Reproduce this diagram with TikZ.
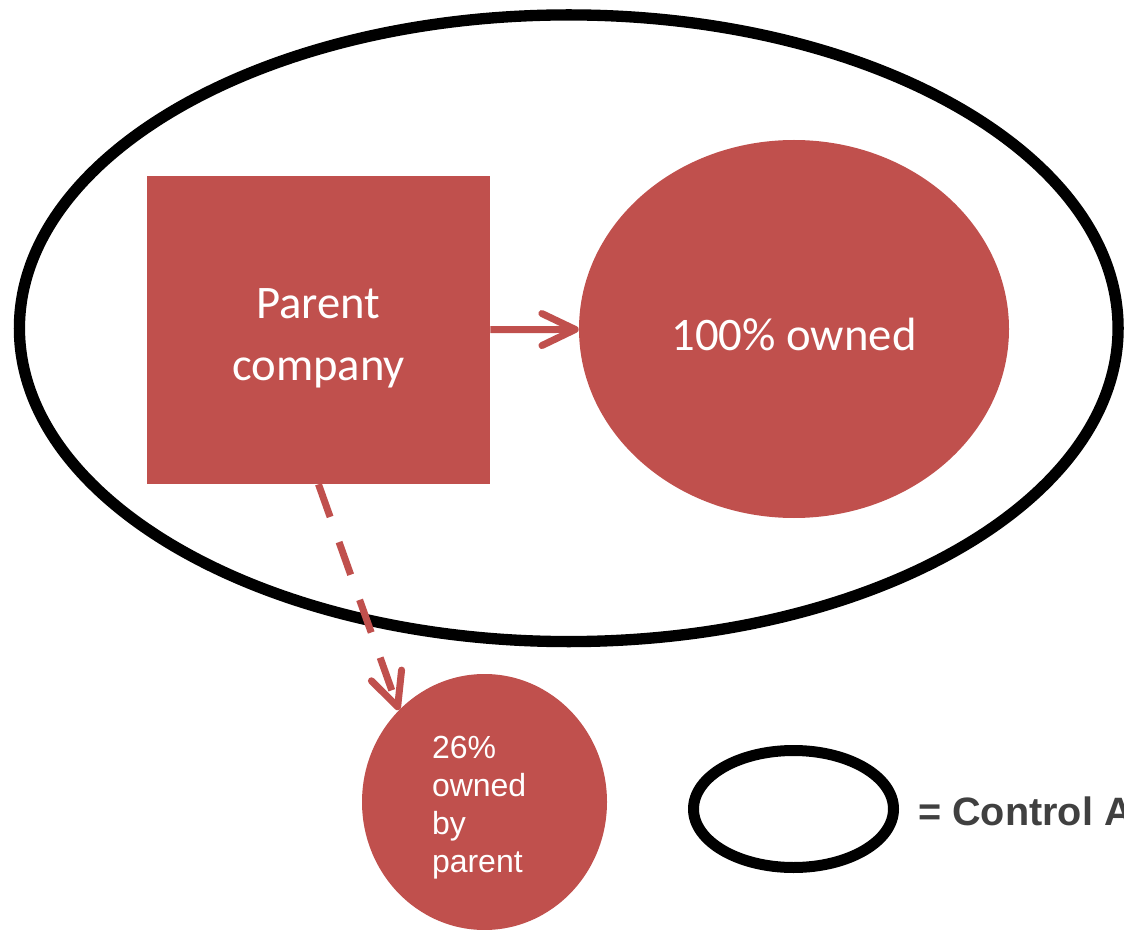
\documentclass[tikz,border=0pt]{standalone}
\usepackage{fontspec}
\setmainfont{Carlito}
\newfontfamily\arialfont{Liberation Sans}
\usetikzlibrary{shapes.geometric,arrows.meta}
\definecolor{ownred}{HTML}{C0504D}
\definecolor{keygray}{HTML}{404040}

\begin{document}
\begin{tikzpicture}[x=0.75pt,y=-0.75pt,
  owned/.style={fill=ownred,text=white,inner sep=0},
  area/.style={ellipse,draw=black,inner sep=0},
  link/.style={draw=ownred,line width=5.25pt,-{Straight Barb[length=25pt,width=24pt,round]}}]

\useasboundingbox (0,0) rectangle (1124,930);
\clip (0,0) rectangle (1124,930);

\node [area,line width=8.5pt,minimum width=824pt,minimum height=470pt] (control) at (568.75,328.25) {};

\node [owned,rectangle,minimum width=257.25pt,minimum height=231pt,align=center,
  font=\fontsize{35}{46.5}\selectfont,text height=76.5pt,text depth=0pt] (parent) at (318.5,330) {Parent\\company};

\node [owned,ellipse,minimum width=322.5pt,minimum height=283.5pt,
  font=\fontsize{35}{42}\selectfont,text height=33pt,text depth=0pt] (full) at (794,329) {100\% owned};

\node [owned,ellipse,minimum width=183.75pt,minimum height=192pt,text width=78.75pt,align=left,
  font=\arialfont\fontsize{24}{28.5}\selectfont,text height=20pt,text depth=86pt] (minority) at (484.5,802) {26\%\\owned\\by\\parent};

\draw [link] (parent) -- (full);
\draw [link,dash pattern=on 26pt off 20pt] (parent.south) -- (minority.133);

\node [area,line width=8.25pt,minimum width=150pt,minimum height=87.75pt] (key) at (793.5,809) {};
\node [anchor=base west,inner sep=0,text=keygray,font=\arialfont\bfseries\fontsize{29.7}{36}\selectfont] (keytext) at (918,825) {= Control A};

\end{tikzpicture}
\end{document}
